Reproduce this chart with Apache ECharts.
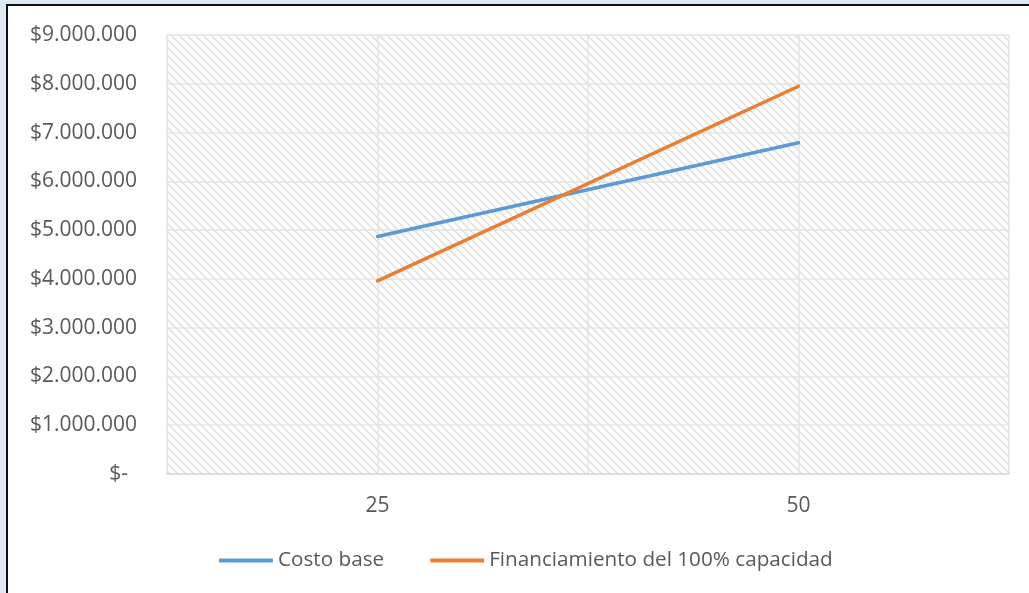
<!DOCTYPE html>
<html><head><meta charset="utf-8">
<script src="https://cdn.jsdelivr.net/npm/echarts@6/dist/echarts.min.js"></script>
<style>
html,body{margin:0;padding:0;width:1029px;height:593px;overflow:hidden;background:#dde8f4;}
#frame{position:absolute;left:6px;top:4px;width:2000px;height:2000px;background:#fff;border-left:2px solid #111;border-top:2px solid #111;}
#chart{position:absolute;left:0;top:0;width:1029px;height:593px;}
</style></head>
<body><div id="frame"></div><div id="chart"></div>
<script>
const categories = [25, 50];
const costoBase = [4870000, 6790000];
const financiamiento = [3960000, 7950000];
const seriesNames = ['Costo base', 'Financiamiento del 100% capacidad'];

const tile = document.createElement('canvas');
tile.width = 8; tile.height = 8;
const c = tile.getContext('2d');
c.fillStyle = '#ffffff'; c.fillRect(0,0,8,8);
c.strokeStyle = '#dedede'; c.lineWidth = 1.5;
c.beginPath();
c.moveTo(-2,-2); c.lineTo(10,10);
c.moveTo(-10,-2); c.lineTo(2,10);
c.moveTo(6,-2); c.lineTo(18,10);
c.stroke();

const font = '"Open Sans", "Noto Sans", sans-serif';
const fs = 21;
const chart = echarts.init(document.getElementById('chart'));
chart.setOption({
  animation: false,
  backgroundColor: 'transparent',
  grid: { left: 167, right: 20, top: 35, bottom: 119, show: true, backgroundColor: {image: tile, repeat: 'repeat'}, borderWidth: 0 },
  xAxis: {
    type: 'value', min: 12.5, max: 62.5, interval: 12.5,
    axisLine: { show: true, lineStyle: { color: '#d9d9d9', width: 1.5 } },
    axisTick: { show: false },
    splitLine: { show: true, lineStyle: { color: '#e3e3e3', width: 1.5 } },
    axisLabel: { margin: 22, color: '#595959', fontSize: fs, fontFamily: font,
      formatter: v => categories.includes(v) ? String(v) : '' }
  },
  yAxis: {
    type: 'value', min: 0, max: 9000000, interval: 1000000,
    axisLine: { show: false }, axisTick: { show: false },
    splitLine: { show: true, lineStyle: { color: '#e3e3e3', width: 1.5 } },
    axisLabel: { margin: 30, color: '#595959', fontSize: fs, fontFamily: font,
      formatter: v => v === 0 ? '{z|$-}' : '$' + v.toLocaleString('de-DE'),
      rich: { z: { color: '#595959', fontSize: fs, fontFamily: font, padding: [0, 9, 0, 0] } } }
  },
  legend: {
    left: 214, top: 545, itemWidth: 54, itemHeight: 4, itemGap: 46,
    icon: 'roundRect',
    textStyle: { color: '#595959', fontSize: 20.7, fontFamily: font },
    data: seriesNames
  },
  series: [
    { name: seriesNames[0], type: 'line', symbol: 'none', data: categories.map((x,i)=>[x, costoBase[i]]),
      lineStyle: { color: '#5b9bd5', width: 3.5, cap: 'round' }, itemStyle: { color: '#5b9bd5' } },
    { name: seriesNames[1], type: 'line', symbol: 'none', data: categories.map((x,i)=>[x, financiamiento[i]]),
      lineStyle: { color: '#ed7d31', width: 3.5, cap: 'round' }, itemStyle: { color: '#ed7d31' } }
  ]
});
</script></body></html>
